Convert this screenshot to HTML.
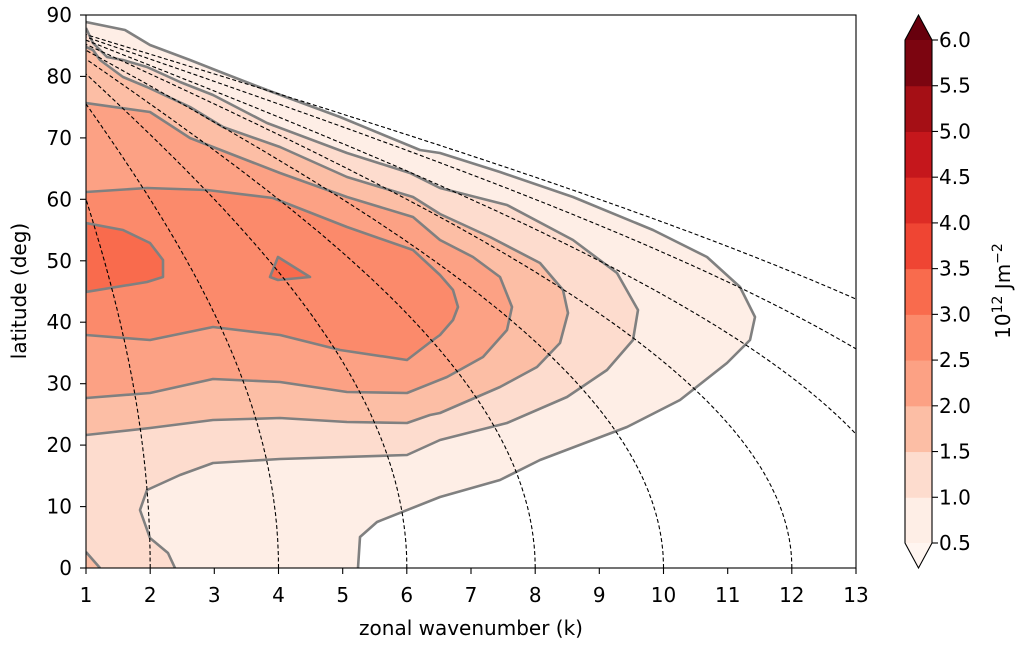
<!DOCTYPE html>
<html><head><meta charset="utf-8"><style>
html,body{margin:0;padding:0;background:#fff;}
svg text{font-family:"DejaVu Sans","Liberation Sans",sans-serif;font-size:20px;fill:#000;}
</style></head><body>
<svg id="s" width="1020" height="645" viewBox="0 0 1020 645" xmlns="http://www.w3.org/2000/svg">
<defs><clipPath id="c"><rect x="86" y="15" width="770" height="553"/></clipPath></defs>
<g clip-path="url(#c)">
<polygon fill="#feeee6" points="86,22 125,30 150,45 190,60 223,73 267,90 340,117 420,150 440,153 500,172 573,197 653,230 707,257 740,287 755,317 750,340 727,363 680,400 627,427 540,460 500,480 440,497 377,522 360,537 358,568 86,568"/>
<polygon fill="#fddcce" points="86,28 93,43 107,57 123,60 147,67 180,82 213,95 267,123 347,153 410,173 440,188 507,205 573,240 617,273 638,310 633,340 607,370 567,397 507,423 440,440 407,455 280,459 213,463 180,475 147,490 140,510 150,538 168,553 175,568 86,568"/>
<polygon fill="#fcbea5" points="86,47 93,50 100,60 123,77 147,87 190,107 223,127 280,147 347,177 413,197 440,214 490,237 540,263 563,290 568,313 560,343 537,367 500,387 440,413 430,415 407,423 347,422 280,418 213,420 150,428 86,435"/>
<polygon fill="#fcbea5" points="86,552 100,568 86,568"/>
<polygon fill="#fca184" points="86,103 150,112 190,138 213,147 280,173 347,197 413,217 440,240 473,257 500,277 512,307 507,330 483,357 447,377 407,393 347,392 280,382 213,379 150,393 86,398"/>
<polygon fill="#fb8a6b" points="86,192 147,188 207,190 273,198 347,227 413,250 440,275 453,290 458,307 453,320 440,335 433,340 407,360 340,350 280,335 213,327 150,340 86,335"/>
<polygon fill="#f96b4d" points="86,223 123,230 150,243 163,260 163,277 147,282 86,292"/>
<polygon fill="#f96b4d" points="278,257 270,277 278,280 310,277"/>
<g fill="none" stroke="#808080" stroke-width="2.6" stroke-linejoin="round">
<polyline points="86,22 125,30 150,45 190,60 223,73 267,90 340,117 420,150 440,153 500,172 573,197 653,230 707,257 740,287 755,317 750,340 727,363 680,400 627,427 540,460 500,480 440,497 377,522 360,537 358,568"/>
<polyline points="86,28 93,43 107,57 123,60 147,67 180,82 213,95 267,123 347,153 410,173 440,188 507,205 573,240 617,273 638,310 633,340 607,370 567,397 507,423 440,440 407,455 280,459 213,463 180,475 147,490 140,510 150,538 168,553 175,568"/>
<polyline points="86,47 93,50 100,60 123,77 147,87 190,107 223,127 280,147 347,177 413,197 440,214 490,237 540,263 563,290 568,313 560,343 537,367 500,387 440,413 430,415 407,423 347,422 280,418 213,420 150,428 86,435"/>
<polyline points="86,552 100,568"/>
<polyline points="86,103 150,112 190,138 213,147 280,173 347,197 413,217 440,240 473,257 500,277 512,307 507,330 483,357 447,377 407,393 347,392 280,382 213,379 150,393 86,398"/>
<polyline points="86,192 147,188 207,190 273,198 347,227 413,250 440,275 453,290 458,307 453,320 440,335 433,340 407,360 340,350 280,335 213,327 150,340 86,335"/>
<polygon points="86,223 123,230 150,243 163,260 163,277 147,282 86,292"/>
<polygon points="278,257 270,277 278,280 310,277"/>
</g>
<g id="dash" fill="none" stroke="#000" stroke-width="1.1" stroke-dasharray="4,2.5"></g>
</g>
<rect x="86" y="15" width="770" height="553" fill="none" stroke="#000" stroke-width="1.1"/>
<g stroke="#000" stroke-width="1.1">
<line x1="86" y1="568" x2="86" y2="574"/><line x1="150.2" y1="568" x2="150.2" y2="574"/><line x1="214.3" y1="568" x2="214.3" y2="574"/><line x1="278.5" y1="568" x2="278.5" y2="574"/><line x1="342.7" y1="568" x2="342.7" y2="574"/><line x1="406.8" y1="568" x2="406.8" y2="574"/><line x1="471" y1="568" x2="471" y2="574"/><line x1="535.2" y1="568" x2="535.2" y2="574"/><line x1="599.3" y1="568" x2="599.3" y2="574"/><line x1="663.5" y1="568" x2="663.5" y2="574"/><line x1="727.7" y1="568" x2="727.7" y2="574"/><line x1="791.8" y1="568" x2="791.8" y2="574"/><line x1="856" y1="568" x2="856" y2="574"/>
<line x1="80" y1="568" x2="86" y2="568"/><line x1="80" y1="506.6" x2="86" y2="506.6"/><line x1="80" y1="445.1" x2="86" y2="445.1"/><line x1="80" y1="383.7" x2="86" y2="383.7"/><line x1="80" y1="322.2" x2="86" y2="322.2"/><line x1="80" y1="260.8" x2="86" y2="260.8"/><line x1="80" y1="199.3" x2="86" y2="199.3"/><line x1="80" y1="137.9" x2="86" y2="137.9"/><line x1="80" y1="76.4" x2="86" y2="76.4"/><line x1="80" y1="15" x2="86" y2="15"/>
</g>
<g text-anchor="middle">
<text x="86" y="602">1</text><text x="150.2" y="602">2</text><text x="214.3" y="602">3</text><text x="278.5" y="602">4</text><text x="342.7" y="602">5</text><text x="406.8" y="602">6</text><text x="471" y="602">7</text><text x="535.2" y="602">8</text><text x="599.3" y="602">9</text><text x="663.5" y="602">10</text><text x="727.7" y="602">11</text><text x="791.8" y="602">12</text><text x="856" y="602">13</text>
<text x="471" y="635">zonal wavenumber (k)</text>
<text transform="translate(26,291) rotate(-90)">latitude (deg)</text>
</g>
<g text-anchor="end">
<text x="72" y="575">0</text><text x="72" y="513.6">10</text><text x="72" y="452.1">20</text><text x="72" y="390.7">30</text><text x="72" y="329.2">40</text><text x="72" y="267.8">50</text><text x="72" y="206.3">60</text><text x="72" y="144.9">70</text><text x="72" y="83.4">80</text><text x="72" y="22">90</text>
</g>
<g id="cb"></g>
<text transform="translate(1010,291) rotate(-90)" text-anchor="middle">10<tspan dy="-8" font-size="14">12</tspan><tspan dy="8"> Jm</tspan><tspan dy="-8" font-size="14">−2</tspan></text>
</svg>
<script>
var NS="http://www.w3.org/2000/svg";
function X(k){return 86+(k-1)*770/12;}
function Y(l){return 568-l*553/90;}
var g=document.getElementById("dash");
[2,4,6,8,10,12,14,16,18].forEach(function(K){
 var pts=[];var lmax=Math.acos(1/K);
 for(var i=0;i<=200;i++){var l=lmax*i/200;var k=K*Math.cos(l);if(k>13.5)continue;pts.push(X(k).toFixed(1)+","+Y(l*180/Math.PI).toFixed(1));}
 var p=document.createElementNS(NS,"polyline");p.setAttribute("points",pts.join(" "));g.appendChild(p);
});
var cols=["#feeee6","#fddcce","#fcbea5","#fca184","#fb8a6b","#f96b4d","#ef4533","#dd2c25","#c5171c","#a50f15","#7c0510"];
var cb=document.getElementById("cb");var x0=905,x1=932,yb=543,yt=40,h=(yb-yt)/11;
function el(n,a){var e=document.createElementNS(NS,n);for(var k in a)e.setAttribute(k,a[k]);cb.appendChild(e);return e;}
for(var i=0;i<11;i++){el("rect",{x:x0,y:(yb-(i+1)*h).toFixed(2),width:x1-x0,height:(h+0.5).toFixed(2),fill:cols[i]});}
el("polygon",{points:x0+","+yt+" "+x1+","+yt+" "+((x0+x1)/2)+",15",fill:"#67000d"});
el("polygon",{points:x0+","+yb+" "+x1+","+yb+" "+((x0+x1)/2)+",568",fill:"#fff5f0"});
el("polygon",{points:x0+","+yt+" "+((x0+x1)/2)+",15 "+x1+","+yt+" "+x1+","+yb+" "+((x0+x1)/2)+",568 "+x0+","+yb,fill:"none",stroke:"#000","stroke-width":"1.1"});
for(var i=0;i<=11;i++){var y=yb-i*h;el("line",{x1:x1,y1:y,x2:x1+6,y2:y,stroke:"#000","stroke-width":"1.1"});var t=el("text",{x:x1+7,y:(y+7).toFixed(1)});t.textContent=(0.5+i*0.5).toFixed(1);}
</script>
</body></html>
